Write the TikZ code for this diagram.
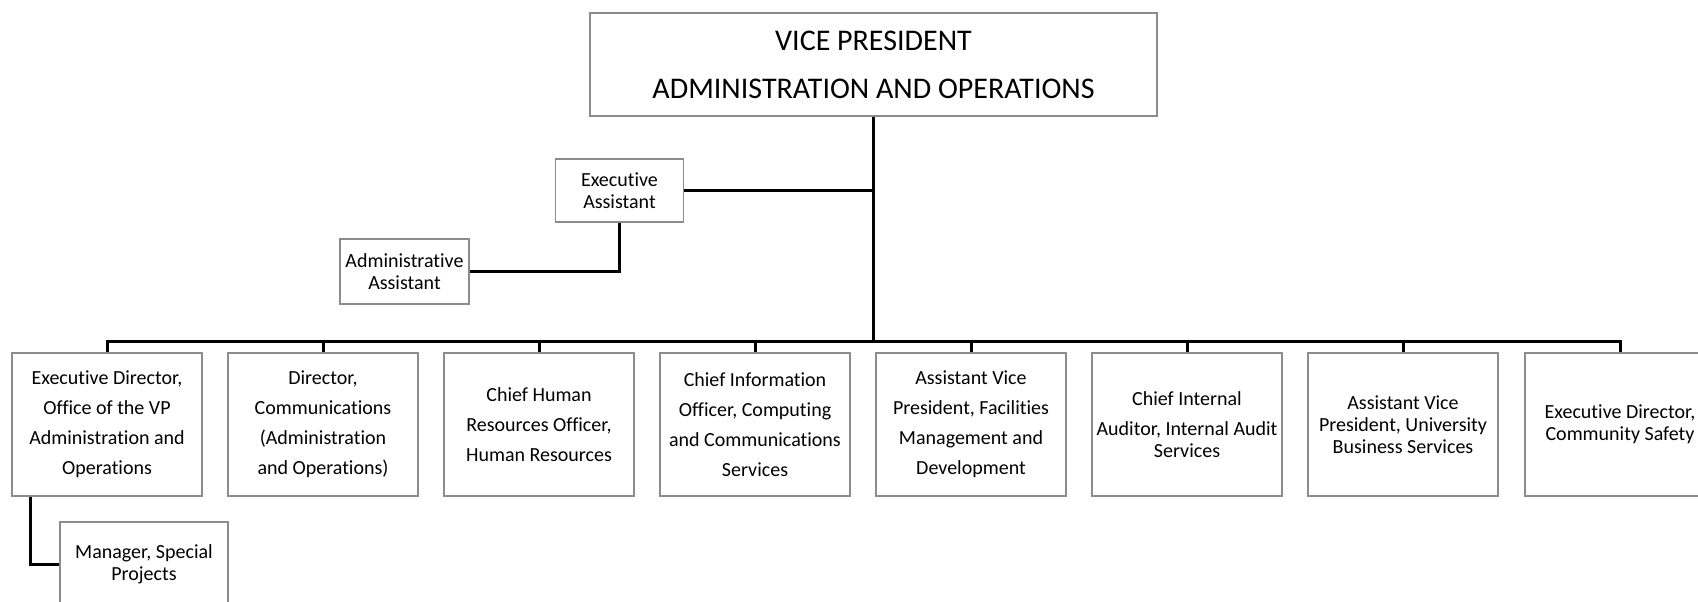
\documentclass[tikz,border=0pt]{standalone}
\usepackage{fontspec}
\setmainfont{Carlito}[Ligatures=NoCommon]

\begin{document}
\begin{tikzpicture}[x=0.5pt,y=-0.5pt,
	post/.style={draw=black!45,line width=0.6pt,align=center,inner sep=0pt,
		font=\fontsize{10}{11}\selectfont},
	unit/.style={post,minimum width=95pt,minimum height=71.5pt},
	link/.style={line width=1.5pt}]
	\useasboundingbox (0,0) rectangle (1698,601);
	\node[post,minimum width=283.5pt,minimum height=51.5pt,
		font=\fontsize{15}{24}\selectfont] (vp) at (873.5,64.5)
		{VICE PRESIDENT\\ADMINISTRATION AND OPERATIONS};
	\node[post,minimum width=64pt,minimum height=31.5pt] (ea) at (619.5,190.5)
		{Executive\\Assistant};
	\node[post,minimum width=64.5pt,minimum height=32.5pt] (aa) at (404.5,271.5)
		{Administrative\\Assistant};
	\coordinate (hub) at (873.5,341);
	\node[unit] (d1) at (107,424.5)
		{Executive Director,\\[4pt]Office of the VP\\[4pt]Administration and\\[4pt]Operations};
	\node[unit] (d2) at (323,424.5)
		{Director,\\[4pt]Communications\\[4pt](Administration\\[4pt]and Operations)};
	\node[unit] (d3) at (539,424.5)
		{Chief Human\\[4pt]Resources Officer,\\[4pt]Human Resources};
	\node[unit] (d4) at (755,424.5)
		{Chief Information\\[4pt]Officer, Computing\\[4pt]and Communications\\[4pt]Services};
	\node[unit] (d5) at (971,424.5)
		{Assistant Vice\\[4pt]President, Facilities\\[4pt]Management and\\[4pt]Development};
	\node[unit] (d6) at (1187,424.5)
		{Chief Internal\\[4pt]Auditor, Internal Audit\\Services};
	\node[unit] (d7) at (1403,424.5)
		{Assistant Vice\\President, University\\Business Services};
	\node[unit] (d8) at (1620,424.5)
		{Executive Director,\\Community Safety};
	\node[post,minimum width=84pt,minimum height=42pt] (mgr) at (144,564)
		{Manager, Special\\Projects};
	\draw[link] (vp.south) -- (hub);
	\draw[link] (ea.east) -- (ea.east -| hub);
	\draw[link] (ea.south) |- (aa.east);
	\draw[link] (d1.north) |- (hub) -| (d8.north);
	\draw[link] (d2.north) -- (d2.north |- hub);
	\draw[link] (d3.north) -- (d3.north |- hub);
	\draw[link] (d4.north) -- (d4.north |- hub);
	\draw[link] (d5.north) -- (d5.north |- hub);
	\draw[link] (d6.north) -- (d6.north |- hub);
	\draw[link] (d7.north) -- (d7.north |- hub);
	\draw[link] ([xshift=9.5pt]d1.south west) |- (mgr.west);
\end{tikzpicture}
\end{document}
